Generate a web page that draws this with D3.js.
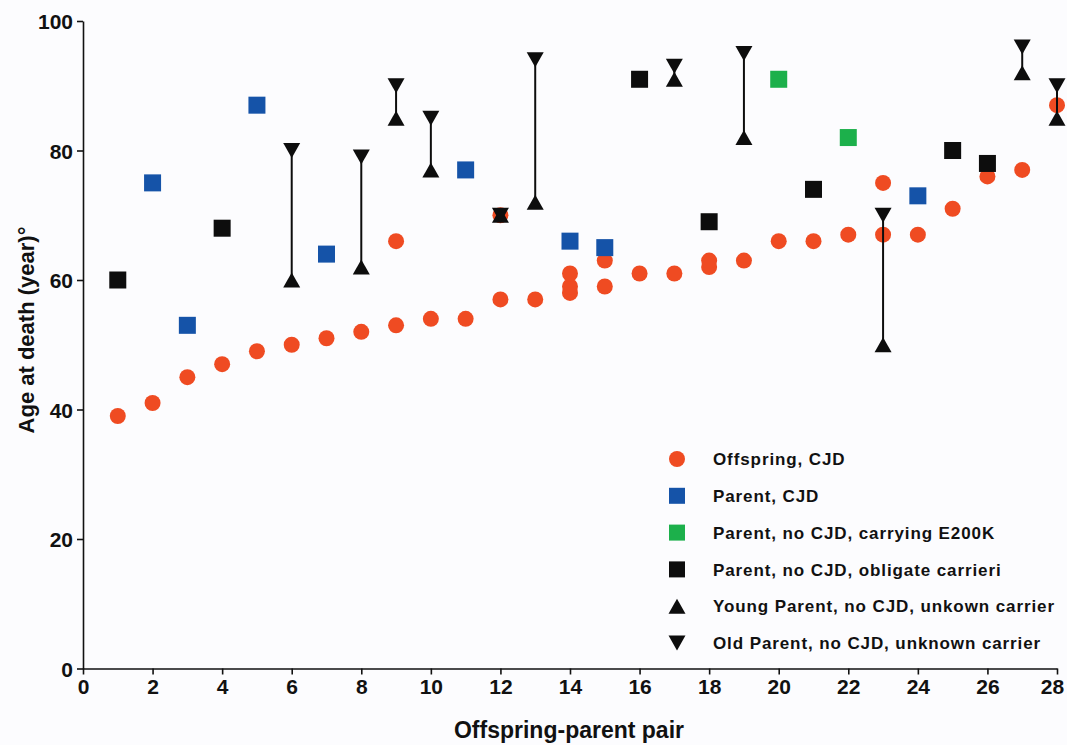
<!DOCTYPE html>
<html>
<head>
<meta charset="utf-8">
<script src="https://cdn.jsdelivr.net/npm/d3@7"></script>
<style>
  body { margin: 0; background: #fcfcfe; }
  svg { display: block; font-family: "Liberation Sans", Arial, sans-serif; font-weight: bold; }
</style>
</head>
<body>
<svg id="chart" width="1067" height="745"></svg>
<script>
const WIDTH = 1067;
const HEIGHT = 745;
const CIRCLE_R = 8;
const SQUARE = 17;
const TRI_W = 17;
const TRI_H = 15;

const ORANGE = "#ef4b22";
const BLUE = "#1553a8";
const GREEN = "#1cb04b";
const BLACK = "#0d0d0d";

// offspring with CJD
const offspringPair = [1, 2, 3, 4, 5, 6, 7, 8, 9, 9, 10, 11, 12, 12, 13, 14, 14, 14, 15, 15, 16, 17, 18, 18, 19, 20, 21, 22, 23, 23, 24, 25, 26, 27, 28];
const offspringAge = [39, 41, 45, 47, 49, 50, 51, 52, 53, 66, 54, 54, 57, 70, 57, 58, 59, 61, 59, 63, 61, 61, 62, 63, 63, 66, 66, 67, 67, 75, 67, 71, 76, 77, 87];

// parent with CJD
const parentPair = [2, 3, 5, 7, 11, 14, 15, 24];
const parentAge = [75, 53, 87, 64, 77, 66, 65, 73];

// parent, no CJD, carrying E200K
const carrierPair = [20, 22];
const carrierAge = [91, 82];

// parent, no CJD, obligate carrier
const obligatePair = [1, 4, 16, 18, 21, 25, 26];
const obligateAge = [60, 68, 91, 69, 74, 80, 78];

// unknown carrier, young / old parent estimates
const unknownPair = [6, 8, 9, 10, 12, 13, 17, 19, 23, 27, 28];
const youngAge = [60, 62, 85, 77, 70, 72, 91, 82, 50, 92, 85];
const oldAge = [80, 79, 90, 85, 70, 94, 93, 95, 70, 96, 90];

const xTicks = d3.range(0, 29, 2);
const yTicks = d3.range(0, 101, 20);

const legendLabels = [
  "Offspring, CJD",
  "Parent, CJD",
  "Parent, no CJD, carrying E200K",
  "Parent, no CJD, obligate carrieri",
  "Young Parent, no CJD, unkown carrier",
  "Old Parent, no CJD, unknown carrier"
];
const legendShapes = ["circle", "square", "square", "square", "up", "down"];
const legendColors = [ORANGE, BLUE, GREEN, BLACK, BLACK, BLACK];

const svg = d3.select("#chart");

const x = d3.scaleLinear().domain([0, 28]).range([83, 1057]);
const y = d3.scaleLinear().domain([0, 100]).range([668.5, 21]);

const triPath = (dir) => {
  const h = dir === "up" ? -TRI_H / 2 : TRI_H / 2;
  return `M0,${h}L${TRI_W / 2},${-h}L${-TRI_W / 2},${-h}Z`;
};

// axes
const xAxis = svg.append("g")
  .attr("transform", `translate(0,${y(0)})`)
  .call(d3.axisBottom(x).tickValues(xTicks).tickSize(6).tickSizeOuter(0).tickPadding(5));
const yAxis = svg.append("g")
  .attr("transform", `translate(${x(0)},0)`)
  .call(d3.axisLeft(y).tickValues(yTicks).tickSize(6).tickSizeOuter(0).tickPadding(4));

[xAxis, yAxis].forEach((ax) => {
  ax.selectAll("path, line").attr("stroke", "#111").attr("stroke-width", 1.6);
  ax.selectAll("text")
    .attr("fill", "#111")
    .attr("font-size", 21)
    .attr("font-weight", "bold")
    .attr("font-family", "Liberation Sans, Arial, sans-serif");
});
yAxis.selectAll("text").attr("dy", "0.36em");
// keep the last label inside the page edge
xAxis.selectAll(".tick text").filter((d) => d === 28).attr("dx", "-5px");

svg.append("text")
  .attr("x", 569)
  .attr("y", 738)
  .attr("text-anchor", "middle")
  .attr("font-size", 23)
  .attr("fill", "#111")
  .text("Offspring-parent pair");

svg.append("text")
  .attr("transform", "translate(34,330) rotate(-90)")
  .attr("text-anchor", "middle")
  .attr("font-size", 22)
  .attr("fill", "#111")
  .text("Age at death (year)°");

const plot = svg.append("g");

// offspring circles
plot.selectAll(".offspring")
  .data(d3.zip(offspringPair, offspringAge))
  .join("circle")
  .attr("cx", (d) => x(d[0]))
  .attr("cy", (d) => y(d[1]))
  .attr("r", CIRCLE_R)
  .attr("fill", ORANGE);

const drawSquares = (pairs, ages, color) => {
  plot.append("g").selectAll("rect")
    .data(d3.zip(pairs, ages))
    .join("rect")
    .attr("x", (d) => x(d[0]) - SQUARE / 2)
    .attr("y", (d) => y(d[1]) - SQUARE / 2)
    .attr("width", SQUARE)
    .attr("height", SQUARE)
    .attr("fill", color);
};
drawSquares(parentPair, parentAge, BLUE);
drawSquares(carrierPair, carrierAge, GREEN);
drawSquares(obligatePair, obligateAge, BLACK);

// range lines between young and old estimate
const ranges = unknownPair.map((p, i) => ({ pair: p, young: youngAge[i], old: oldAge[i] }));

plot.append("g").selectAll("line")
  .data(ranges)
  .join("line")
  .attr("x1", (d) => x(d.pair))
  .attr("x2", (d) => x(d.pair))
  .attr("y1", (d) => y(d.young))
  .attr("y2", (d) => y(d.old))
  .attr("stroke", BLACK)
  .attr("stroke-width", 2);

plot.append("g").selectAll("path")
  .data(ranges)
  .join("path")
  .attr("d", triPath("up"))
  .attr("transform", (d) => `translate(${x(d.pair)},${y(d.young)})`)
  .attr("fill", BLACK);

plot.append("g").selectAll("path")
  .data(ranges)
  .join("path")
  .attr("d", triPath("down"))
  .attr("transform", (d) => `translate(${x(d.pair)},${y(d.old)})`)
  .attr("fill", BLACK);

// legend
const legend = svg.append("g").attr("transform", "translate(677,459)");
const item = legend.selectAll("g")
  .data(legendLabels)
  .join("g")
  .attr("transform", (d, i) => `translate(0,${i * 36.8})`);

item.each(function (d, i) {
  const g = d3.select(this);
  const shape = legendShapes[i];
  if (shape === "circle") {
    g.append("circle").attr("r", CIRCLE_R).attr("fill", legendColors[i]);
  } else if (shape === "square") {
    g.append("rect")
      .attr("x", -8).attr("y", -8).attr("width", 16).attr("height", 16)
      .attr("fill", legendColors[i]);
  } else {
    g.append("path").attr("d", triPath(shape)).attr("fill", legendColors[i]);
  }
});

item.append("text")
  .attr("x", 36)
  .attr("dy", "0.36em")
  .attr("font-size", 17)
  .attr("letter-spacing", "0.9px")
  .attr("fill", "#111")
  .text((d) => d);
</script>
</body>
</html>
